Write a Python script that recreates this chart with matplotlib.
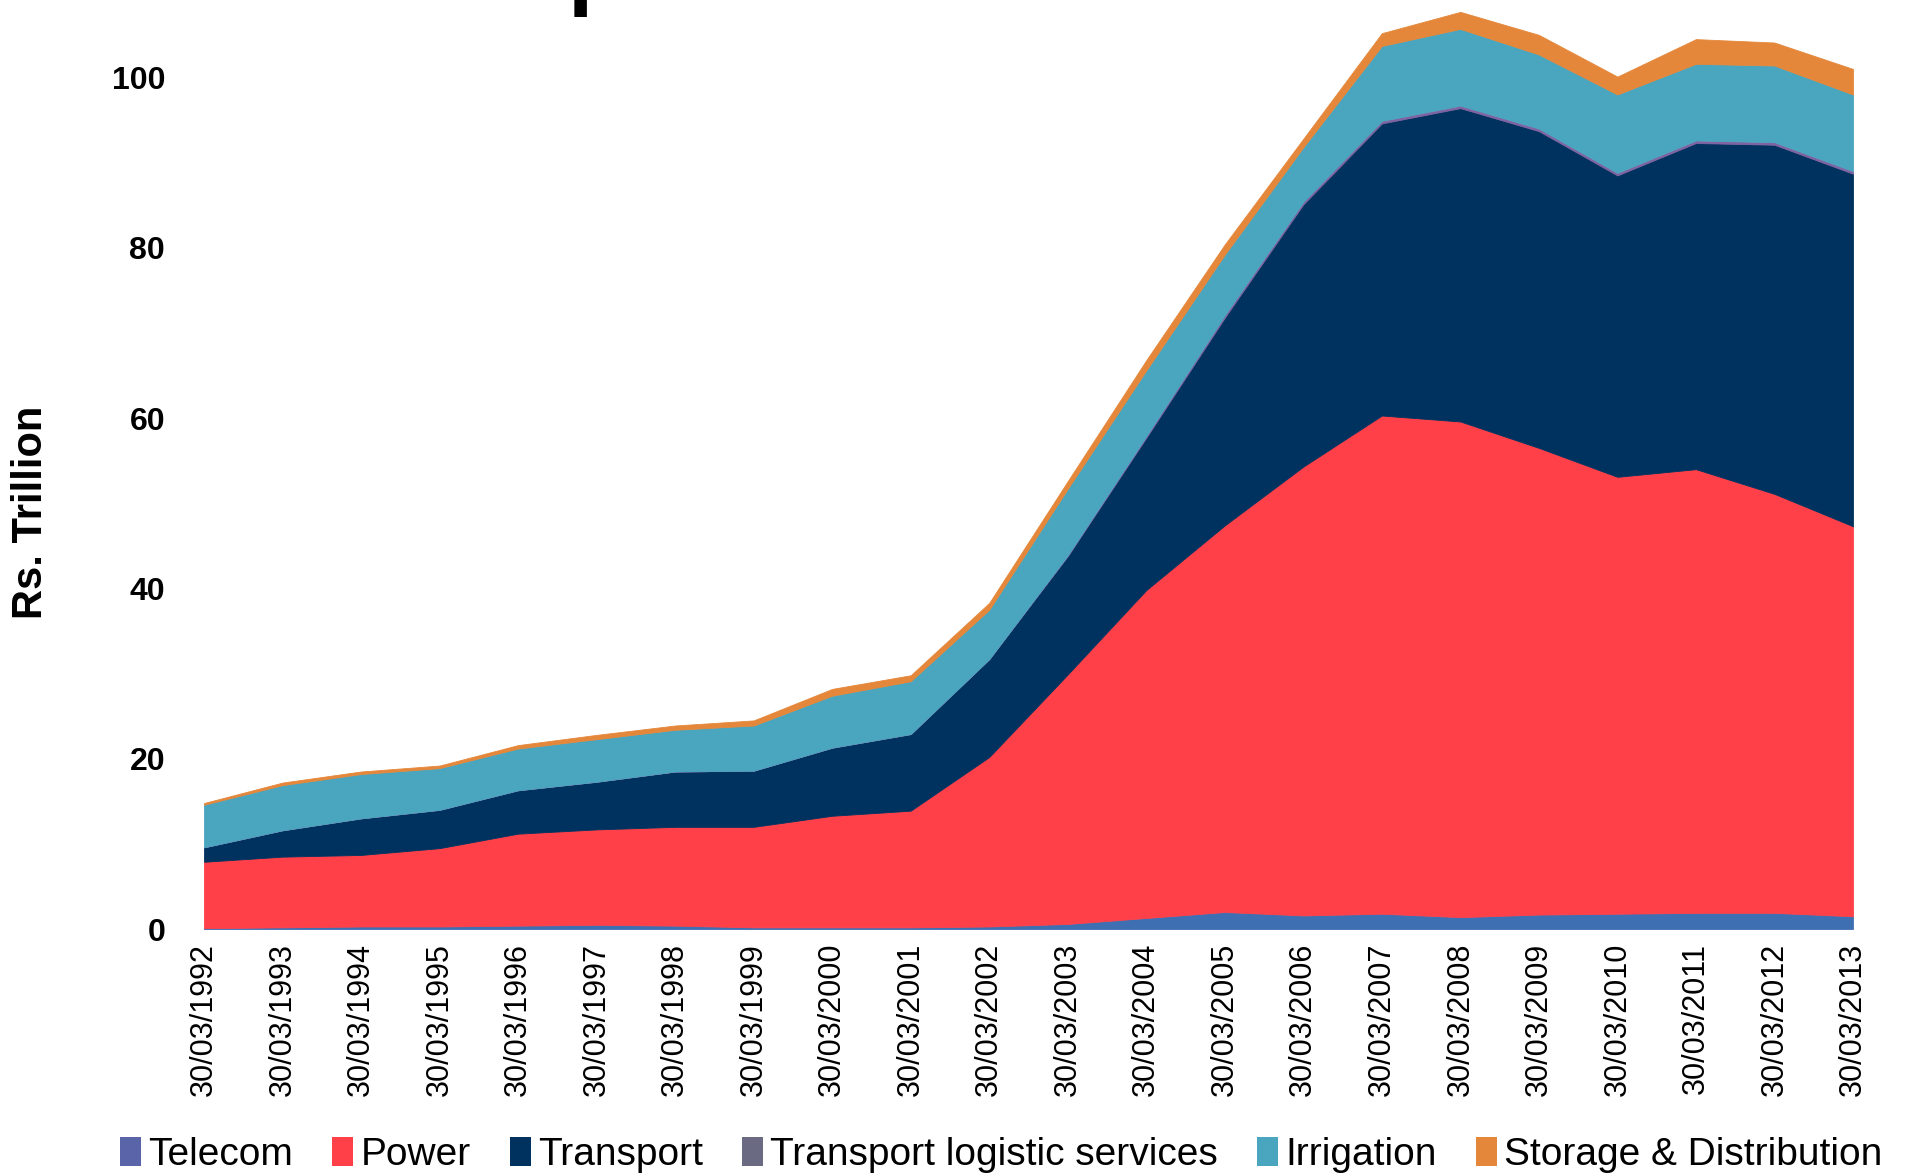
import matplotlib
matplotlib.use('Agg')
import matplotlib.pyplot as plt
from matplotlib.patches import Patch

years = [1992, 1993, 1994, 1995, 1996, 1997, 1998, 1999, 2000, 2001, 2002,
         2003, 2004, 2005, 2006, 2007, 2008, 2009, 2010, 2011, 2012, 2013]
tick_labels = ['30/03/%d' % y for y in years]

# Rs. Trillion
telecom = [0.1, 0.2, 0.3, 0.3, 0.4, 0.5, 0.4, 0.2, 0.2, 0.2, 0.3,
           0.6, 1.3, 2.0, 1.6, 1.8, 1.4, 1.7, 1.8, 1.9, 1.9, 1.5]
power = [7.8, 8.3, 8.4, 9.2, 10.8, 11.2, 11.6, 11.8, 13.1, 13.7, 19.9,
         29.3, 38.5, 45.4, 52.7, 58.5, 58.2, 54.8, 51.3, 52.1, 49.2, 45.8]
transport = [1.7, 3.1, 4.3, 4.5, 5.1, 5.6, 6.5, 6.6, 8.0, 9.0, 11.5,
             13.9, 17.9, 24.4, 30.8, 34.3, 36.8, 37.2, 35.4, 38.3, 41.0, 41.4]
logistics = [0.0, 0.0, 0.0, 0.0, 0.0, 0.0, 0.0, 0.0, 0.0, 0.0, 0.0,
             0.1, 0.2, 0.3, 0.3, 0.3, 0.3, 0.3, 0.3, 0.3, 0.3, 0.3]
irrigation = [5.0, 5.3, 5.2, 4.9, 4.9, 5.0, 4.9, 5.3, 6.1, 6.2, 5.8,
              7.8, 7.7, 7.1, 6.4, 8.8, 9.0, 8.7, 9.2, 9.0, 9.0, 9.0]
storage = [0.2, 0.3, 0.3, 0.3, 0.4, 0.5, 0.5, 0.6, 0.8, 0.7, 0.8,
           0.9, 1.2, 1.2, 1.0, 1.5, 2.0, 2.3, 2.1, 2.9, 2.7, 3.0]

names = ['Telecom', 'Power', 'Transport', 'Transport logistic services',
         'Irrigation', 'Storage & Distribution']
colors = ['#3F6FB3', '#FF4049', '#00325F', '#8064A2', '#4AA6BF', '#E5873A']
legend_colors = ['#5A64A8', '#FF4049', '#00325F', '#6A6A82', '#4AA6BF', '#E5873A']

plt.rcParams['font.family'] = ['Liberation Sans', 'DejaVu Sans']

fig = plt.figure(figsize=(19.14, 11.76), dpi=100)
ax = fig.add_axes([0.1066, 0.2100, 0.8615, 0.7857])

x = list(range(len(years)))
ax.stackplot(x, telecom, power, transport, logistics, irrigation, storage,
             colors=colors, edgecolor='face', linewidth=0.6)

ax.set_xlim(0, len(years) - 1)
ax.set_ylim(0, 108.5)
ax.set_yticks([0, 20, 40, 60, 80, 100])
ax.set_yticklabels(['0', '20', '40', '60', '80', '100'],
                   fontsize=23, fontweight='bold')
ax.set_xticks(x)
ax.set_xticklabels(tick_labels, rotation=90, fontsize=22)
ax.tick_params(axis='y', length=0, pad=28)
ax.tick_params(axis='x', length=0, pad=10)
for s in ax.spines.values():
    s.set_visible(False)

fig.text(0.016, 0.564, 'Rs. Trillion', rotation=90, fontsize=30,
         fontweight='bold', ha='center', va='center')

# title is cut off by the top edge, only the tail of a "p" shows
fig.text(0.2968, 1.0015, 'p', fontsize=66, fontweight='bold',
         ha='left', va='baseline')

handles = [Patch(facecolor=c, edgecolor='none') for c in legend_colors]
fig.legend(handles, names, loc='center', bbox_to_anchor=(0.523, 0.018),
           ncol=6, frameon=False, fontsize=28, handlelength=0.55,
           handleheight=0.75, handletextpad=0.18, columnspacing=1.0,
           borderaxespad=0)

fig.savefig('out.png', dpi=100)
